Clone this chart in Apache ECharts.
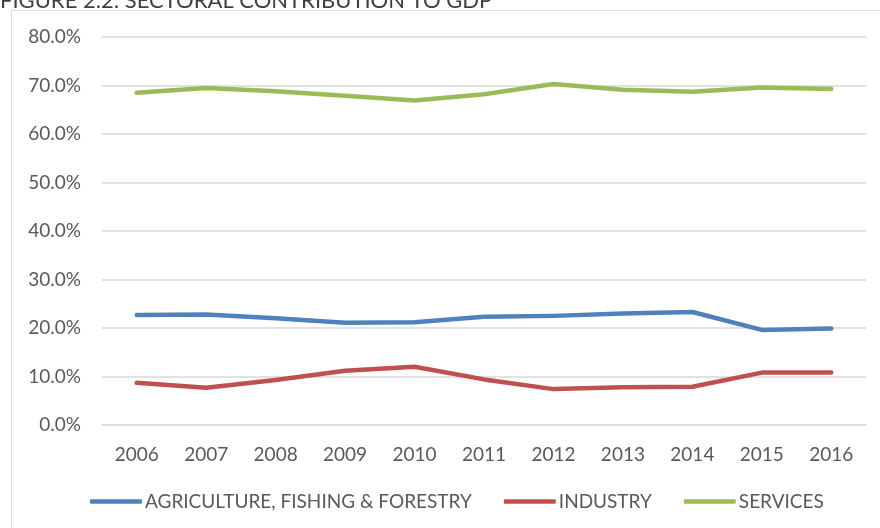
<!DOCTYPE html>
<html>
<head>
<meta charset="utf-8">
<script src="https://cdn.jsdelivr.net/npm/echarts@6/dist/echarts.min.js"></script>
<style>
  html, body { margin: 0; padding: 0; background: #ffffff; }
  #chart { width: 880px; height: 528px; }
</style>
</head>
<body>
<div id="chart"></div>
<script>
const titleText = 'FIGURE 2.2: SECTORAL CONTRIBUTION TO GDP';
const years = ['2006','2007','2008','2009','2010','2011','2012','2013','2014','2015','2016'];
const agriculture = [22.7, 22.8, 22.0, 21.1, 21.2, 22.3, 22.5, 23.0, 23.3, 19.6, 19.9];
const industry    = [8.7, 7.7, 9.3, 11.2, 12.0, 9.4, 7.4, 7.8, 7.9, 10.8, 10.8];
const services    = [68.5, 69.5, 68.8, 67.9, 66.9, 68.2, 70.3, 69.1, 68.7, 69.6, 69.3];
const seriesNames = ['AGRICULTURE, FISHING & FORESTRY', 'INDUSTRY', 'SERVICES'];
const seriesColors = ['#4f81bd', '#c0504d', '#9bbb59'];

const FONT = 'Lato, "Open Sans", sans-serif';
const chart = echarts.init(document.getElementById('chart'), null, { renderer: 'canvas' });

function mkSeries(name, data, color) {
  return {
    name: name,
    type: 'line',
    data: data,
    symbol: 'none',
    showSymbol: false,
    smooth: false,
    lineStyle: { color: color, width: 4.5, cap: 'round', join: 'round' },
    itemStyle: { color: color },
    emphasis: { disabled: true },
    animation: false
  };
}

chart.setOption({
  animation: false,
  backgroundColor: '#ffffff',
  textStyle: { fontFamily: FONT },
  graphic: [
    {
      type: 'rect',
      silent: true,
      shape: { x: 11.5, y: 10.5, width: 900, height: 600 },
      style: { fill: 'none', stroke: '#d9d9d9', lineWidth: 1 }
    },
    {
      type: 'text',
      silent: true,
      x: 0,
      y: 11.5,
      style: {
        text: titleText,
        font: '22px ' + FONT,
        fill: '#404040',
        textAlign: 'left',
        textVerticalAlign: 'bottom'
      }
    }
  ],
  grid: { left: 102, right: 14, top: 37, bottom: 103, containLabel: false },
  legend: {
    data: seriesNames.map(function (n) { return { name: n, icon: 'roundRect' }; }),
    left: 85,
    top: 487,
    itemWidth: 52,
    itemHeight: 4.5,
    itemGap: 32,
    textStyle: { fontFamily: FONT, fontSize: 19, color: '#595959', padding: [0, 0, 0, -2] },
    selectedMode: false
  },
  xAxis: {
    type: 'category',
    data: years,
    boundaryGap: true,
    axisLine: { show: true, lineStyle: { color: '#d9d9d9', width: 1.5 } },
    axisTick: { show: false },
    axisLabel: { color: '#595959', fontSize: 19, fontFamily: FONT, margin: 20 },
    splitLine: { show: false }
  },
  yAxis: {
    type: 'value',
    min: 0,
    max: 80,
    interval: 10,
    axisLine: { show: false },
    axisTick: { show: false },
    axisLabel: {
      color: '#595959', fontSize: 19, fontFamily: FONT, margin: 21,
      formatter: function (v) { return v.toFixed(1) + '%'; }
    },
    splitLine: { show: true, lineStyle: { color: '#d9d9d9', width: 1.5 } }
  },
  series: [
    mkSeries(seriesNames[0], agriculture, seriesColors[0]),
    mkSeries(seriesNames[1], industry, seriesColors[1]),
    mkSeries(seriesNames[2], services, seriesColors[2])
  ]
});
</script>
</body>
</html>
